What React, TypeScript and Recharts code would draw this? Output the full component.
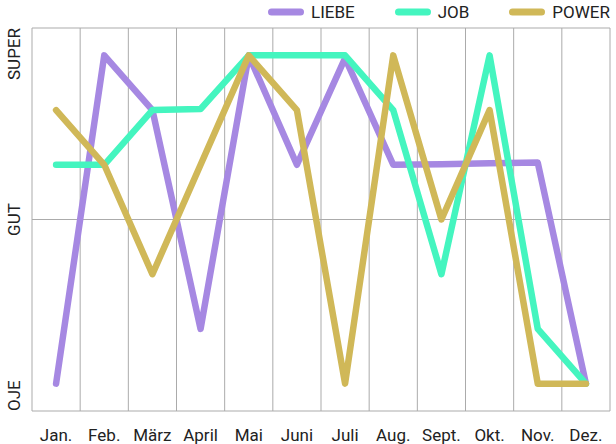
import React from "react";
import {
  LineChart,
  Line,
  XAxis,
  YAxis,
  CartesianGrid,
  Legend,
} from "recharts";

const months = [
  "Jan.",
  "Feb.",
  "März",
  "April",
  "Mai",
  "Juni",
  "Juli",
  "Aug.",
  "Sept.",
  "Okt.",
  "Nov.",
  "Dez.",
];

// 0 = OJE, 3 = GUT, 6 = SUPER
const liebe = [0, 6, 5, 1, 6, 4, 5.95, 4, 4.01, 4.03, 4.04, 0];
const job = [4, 4, 5, 5.02, 6, 6, 6, 5, 2, 6, 1, 0];
const power = [5, 4, 2, 4, 6, 5, 0, 6, 3, 5, 0, 0];

const yTicks = [-0.5, 3, 6.5];
const yLabels = ["OJE", "GUT", "SUPER"];

const seriesNames = ["LIEBE", "JOB", "POWER"];
const seriesColors = ["#a688e2", "#44f5bf", "#d0b858"];

const data = months.map((m, i) => ({
  month: m,
  LIEBE: liebe[i],
  JOB: job[i],
  POWER: power[i],
}));

const FONT = "Roboto, 'Noto Sans', sans-serif";

const YTick = (props: any) => {
  const { x, y, payload, index } = props;
  const anchor = index === 0 ? "start" : index === 2 ? "end" : "middle";
  return (
    <text
      transform={`translate(${x - 10}, ${y}) rotate(-90)`}
      textAnchor={anchor}
      dominantBaseline="central"
      fontSize={17}
      fontFamily={FONT}
      fill="#222"
    >
      {yLabels[yTicks.indexOf(payload.value)]}
    </text>
  );
};

const LegendContent = () => (
  <div
    style={{
      display: "flex",
      justifyContent: "flex-end",
      alignItems: "center",
      height: 23,
      paddingBottom: 5,
      fontFamily: FONT,
      fontSize: 17,
      color: "#222",
    }}
  >
    {seriesNames.map((name, i) => (
      <div
        key={name}
        style={{ display: "flex", alignItems: "center", marginLeft: i === 0 ? 0 : 40 }}
      >
        <svg width={36} height={10} style={{ marginRight: 7 }}>
          <line
            x1={3.5}
            y1={5}
            x2={32.5}
            y2={5}
            stroke={seriesColors[i]}
            strokeWidth={7}
            strokeLinecap="round"
          />
        </svg>
        <span>{name}</span>
      </div>
    ))}
  </div>
);

export default function App() {
  return (
    <div style={{ position: "absolute", left: 0, top: 0, background: "#fff" }}>
      <LineChart
        width={616}
        height={444}
        data={data}
        margin={{ top: 0, right: 6, bottom: 0, left: 0 }}
      >
        <CartesianGrid
          stroke="#ababab"
          strokeWidth={1}
          verticalCoordinatesGenerator={({ offset }: any) =>
            months
              .concat([""])
              .map((_, i) => offset.left + (i * offset.width) / months.length)
          }
        />
        <XAxis
          dataKey="month"
          scale="band"
          axisLine={false}
          tickLine={false}
          tickSize={0}
          tickMargin={18}
          height={33}
          interval={0}
          tick={{ fontSize: 17, fontFamily: FONT, fill: "#222" }}
        />
        <YAxis
          type="number"
          domain={[-0.5, 6.5]}
          ticks={yTicks}
          width={32}
          axisLine={false}
          tickLine={false}
          tick={<YTick />}
        />
        <Legend
          verticalAlign="top"
          align="right"
          content={<LegendContent />}
        />
        {seriesNames.map((name, i) => (
          <Line
            key={name}
            type="linear"
            dataKey={name}
            stroke={seriesColors[i]}
            strokeWidth={6.5}
            strokeLinejoin="round"
            strokeLinecap="round"
            dot={false}
            activeDot={false}
            isAnimationActive={false}
          />
        ))}
      </LineChart>
    </div>
  );
}
